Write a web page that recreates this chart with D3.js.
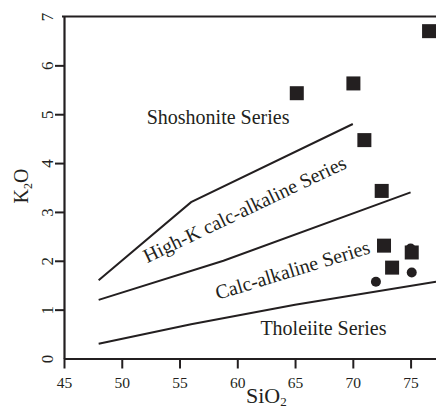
<!DOCTYPE html>
<html>
<head>
<meta charset="utf-8">
<script src="https://cdn.jsdelivr.net/npm/d3@7"></script>
<style>
  body { margin: 0; background: #fff; }
  svg { display: block; font-family: "Liberation Serif", "Times New Roman", serif; }
</style>
</head>
<body>
<div id="chart"></div>
<script>
//size
const width = 436;
const height = 409;

//ticks
const xTicks = [45, 50, 55, 60, 65, 70, 75];
const yTicks = [0, 1, 2, 3, 4, 5, 6, 7];

//samples (squares)
const squareSiO2 = [65.15, 70.05, 76.6, 71.0, 72.5, 72.7, 73.4, 75.1];
const squareK2O = [5.43, 5.63, 6.7, 4.47, 3.43, 2.31, 1.86, 2.17];

//samples (dots)
const dotSiO2 = [75.0, 72.0, 75.1];
const dotK2O = [2.25, 1.57, 1.76];

//series boundaries [SiO2, K2O]
const shoshoniteLine = [[48, 1.6], [56, 3.2], [70, 4.8]];
const highKLine = [[48, 1.2], [58.8, 2.0], [75, 3.4]];
const tholeiiteLine = [[48, 0.3], [56, 0.7], [65, 1.1], [77.2, 1.57]];

const ink = "#231f20";

//scales
const x = d3.scaleLinear().domain([45, 77.2]).range([64, 436]);
const y = d3.scaleLinear().domain([0, 7]).range([358.5, 16.5]);

const svg = d3.select("#chart")
  .append("svg")
  .attr("width", width)
  .attr("height", height);

//x axis
const xAxis = svg.append("g")
  .attr("transform", `translate(0,${y(0)})`)
  .call(d3.axisBottom(x).tickValues(xTicks).tickFormat(d3.format("d"))
    .tickSize(10).tickSizeOuter(0).tickPadding(8));
xAxis.select(".domain").attr("stroke", ink).attr("stroke-width", 2.2);
xAxis.selectAll(".tick line").attr("stroke", ink).attr("stroke-width", 2);
xAxis.selectAll(".tick text")
  .attr("fill", ink)
  .style("font-size", "15.5px")
  .style("font-family", "Liberation Serif");

//y axis
const yAxis = svg.append("g")
  .attr("transform", `translate(${x(45)},0)`)
  .call(d3.axisLeft(y).tickValues(yTicks).tickFormat(d3.format("d"))
    .tickSize(9).tickSizeOuter(0));
yAxis.select(".domain").attr("stroke", ink).attr("stroke-width", 2.2);
yAxis.selectAll(".tick line")
  .attr("stroke", ink)
  .attr("stroke-width", 2)
  .attr("display", (d) => (d === 0 || d === 7 ? "none" : null));
yAxis.selectAll(".tick text")
  .attr("fill", ink)
  .attr("x", null)
  .attr("dy", null)
  .attr("text-anchor", "middle")
  .attr("transform", "translate(-11,0) rotate(-90)")
  .style("font-size", "17px")
  .style("font-family", "Liberation Serif");

//top frame line
svg.append("line")
  .attr("x1", x(45) - 2)
  .attr("x2", width)
  .attr("y1", y(7))
  .attr("y2", y(7))
  .attr("stroke", ink)
  .attr("stroke-width", 2.2);

//axis titles
svg.append("text")
  .attr("x", 246)
  .attr("y", 403)
  .attr("fill", ink)
  .style("font-size", "22px")
  .call((t) => {
    t.append("tspan").text("SiO");
    t.append("tspan").attr("dy", 3).style("font-size", "13px").text("2");
  });

svg.append("text")
  .attr("transform", "translate(28,186) rotate(-90)")
  .attr("text-anchor", "middle")
  .attr("fill", ink)
  .style("font-size", "20px")
  .call((t) => {
    t.append("tspan").text("K");
    t.append("tspan").attr("dy", 4).style("font-size", "12px").text("2");
    t.append("tspan").attr("dy", -4).text("O");
  });

//boundaries
const line = d3.line().x((d) => x(d[0])).y((d) => y(d[1]));
svg.selectAll("path.boundary")
  .data([shoshoniteLine, highKLine, tholeiiteLine])
  .enter()
  .append("path")
  .attr("class", "boundary")
  .attr("d", line)
  .attr("fill", "none")
  .attr("stroke", ink)
  .attr("stroke-width", 2);

//series labels
const label = (text, sx, ky, angle) =>
  svg.append("text")
    .attr("transform", `translate(${x(sx)},${y(ky)}) rotate(${angle})`)
    .attr("fill", ink)
    .style("font-size", "20px")
    .text(text);

label("Shoshonite Series", 52.16, 4.8, 0);
label("High-K calc-alkaline Series", 52.2, 1.95, -25.5);
label("Calc-alkaline Series", 58.3, 1.2, -17);
label("Tholeiite Series", 62.0, 0.48, 0);

//dots
svg.selectAll("circle.sample")
  .data(d3.zip(dotSiO2, dotK2O))
  .enter()
  .append("circle")
  .attr("class", "sample")
  .attr("cx", (d) => x(d[0]))
  .attr("cy", (d) => y(d[1]))
  .attr("r", 5)
  .attr("fill", ink);

//squares
const sq = 14;
svg.selectAll("rect.sample")
  .data(d3.zip(squareSiO2, squareK2O))
  .enter()
  .append("rect")
  .attr("class", "sample")
  .attr("x", (d) => x(d[0]) - sq / 2)
  .attr("y", (d) => y(d[1]) - sq / 2)
  .attr("width", sq)
  .attr("height", sq)
  .attr("fill", ink);
</script>
</body>
</html>
